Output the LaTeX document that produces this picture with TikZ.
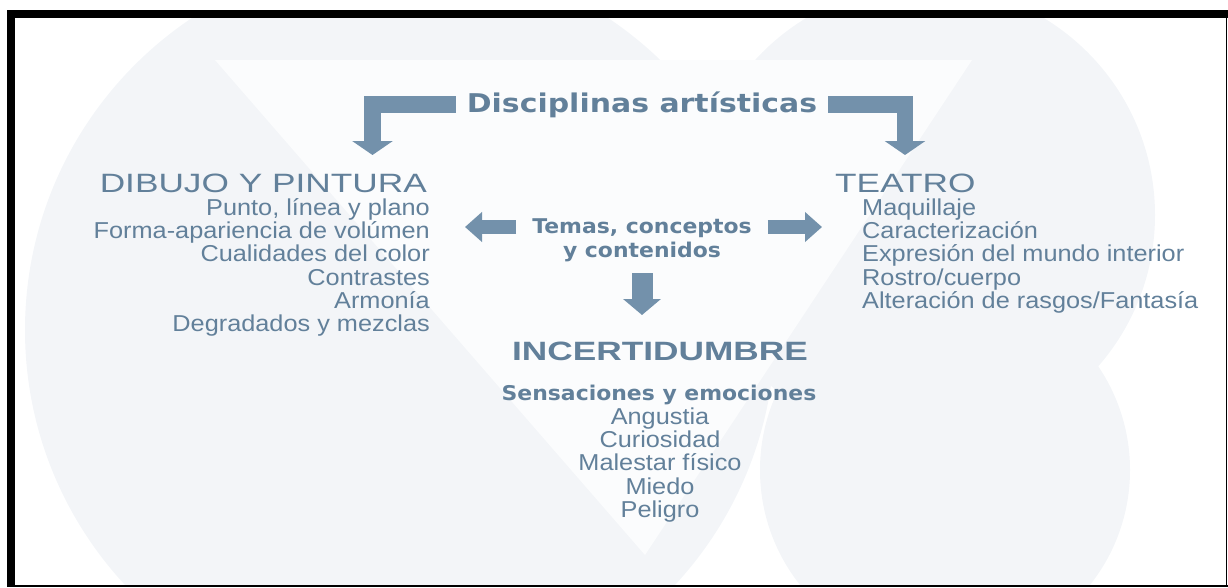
\documentclass[tikz,border=0pt]{standalone}
\usepackage{fontspec}
\setmainfont{Liberation Sans}
\newfontfamily\headfont[FakeStretch=1.33]{Liberation Sans}
\newfontfamily\itemfont[FakeStretch=1.1]{Liberation Sans}
\newfontfamily\widebold[FakeStretch=1.08]{DejaVu Sans}
\newfontfamily\titlefont[FakeStretch=1.16]{DejaVu Sans}
\usetikzlibrary{arrows.meta, positioning, calc}
\usepackage{xcolor}
\definecolor{txtcol}{HTML}{62809A}
\definecolor{arrowcol}{HTML}{7391AB}
\definecolor{bgcol}{HTML}{F3F5F8}
\definecolor{trifill}{HTML}{FBFCFD}

\begin{document}
\begin{tikzpicture}[x=1pt, y=-1pt,
  heading/.style={inner sep=0pt, text=txtcol, font=\headfont\fontsize{26.5}{30}\selectfont},
  itemlist/.style={inner sep=0pt, text=txtcol, font=\itemfont\fontsize{23}{23.3}\selectfont},
  boldlbl/.style={text=txtcol, font=\widebold\bfseries\fontsize{20.3}{23.7}\selectfont},
  blockarrow/.style={draw=arrowcol, line width=16.5pt, -{Triangle[width=40pt, length=14pt]}},
  sidearrow/.style={draw=arrowcol, line width=14pt, -{Triangle[width=29pt, length=17pt]}},
  downarrow/.style={draw=arrowcol, line width=21pt, -{Triangle[width=37pt, length=16pt]}}
]
  \useasboundingbox (0,0) rectangle (1228,587);
  % background
  \begin{scope}
    \clip (15,18) rectangle (1225,585);
    \fill[bgcol] (400,330) circle (375pt);
    \fill[bgcol] (925,215) circle (230pt);
    \fill[bgcol] (945,470) circle (185pt);
    \fill[trifill] (215,60) -- (972,60) -- (645,555) -- cycle;
  \end{scope}
  % frame
  \fill[black] (7,10) rectangle (1228,18);
  \fill[black] (7,10) rectangle (15,587);
  \fill[black] (1225.5,10) rectangle (1227,587);
  \fill[black] (7,584.5) rectangle (1228,586.5);

  \node[anchor=base, inner xsep=11pt, text=txtcol,
        font=\titlefont\bfseries\fontsize{25.8}{30}\selectfont] (disc) at (642,112)
    {Disciplinas artísticas};

  \node[heading, anchor=base east] (dibujo) at (427,192) {DIBUJO Y PINTURA};
  \node[itemlist, anchor=north east, align=right] (dlist) at (430,198.2)
    {Punto, línea y plano\\ Forma-apariencia de volúmen\\ Cualidades del color\\
     Contrastes\\ Armonía\\ Degradados y mezclas};

  \node[heading, anchor=base west] (teatro) at (835,192) {TEATRO};
  \node[itemlist, anchor=north west, align=left] (tlist) at (862,198.5)
    {Maquillaje\\ Caracterización\\ Expresión del mundo interior\\
     Rostro/cuerpo\\ Alteración de rasgos/Fantasía};

  \node[boldlbl, anchor=north, align=center, inner xsep=16pt, inner ysep=11.5pt]
    (temas) at (642,207.1) {Temas, conceptos\\ y contenidos};

  \node[anchor=base, inner sep=0pt, text=txtcol,
        font=\headfont\bfseries\fontsize{26.5}{30}\selectfont] (incert) at (660,360)
    {INCERTIDUMBRE};
  \node[boldlbl, anchor=base, inner sep=0pt] (sens) at (659,400)
    {Sensaciones y emociones};
  \node[itemlist, anchor=north, align=center] (slist) at (660,407.5)
    {Angustia\\ Curiosidad\\ Malestar físico\\ Miedo\\ Peligro};

  \coordinate (dtip) at (372.5,155);
  \coordinate (ttip) at (905,155);
  \coordinate (ltip) at (465,227);
  \coordinate (rtip) at (822,227);
  \coordinate (ctip) at (642,315);

  \draw[blockarrow] (disc.west) -| (dtip);
  \draw[blockarrow] (disc.east) -| (ttip);
  \draw[sidearrow] (temas.west |- ltip) -- (ltip);
  \draw[sidearrow] (temas.east |- rtip) -- (rtip);
  \draw[downarrow] (temas.south -| ctip) -- (ctip);
\end{tikzpicture}
\end{document}
